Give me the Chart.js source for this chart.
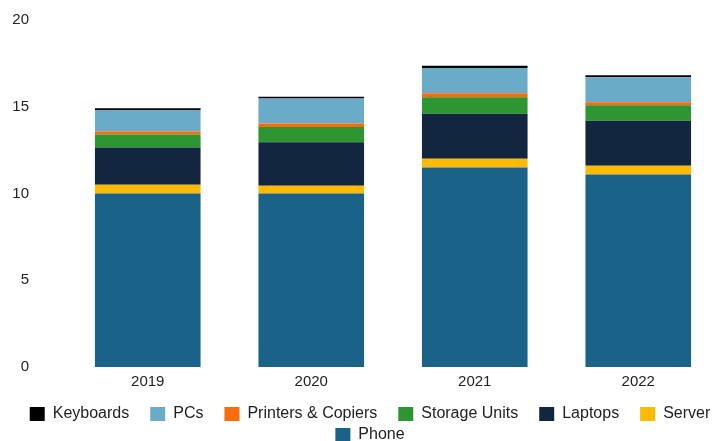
<!DOCTYPE html>
<html>
<head>
    <meta charset="utf-8" />
    <title>Devices by year</title>
    <script src="https://cdn.jsdelivr.net/npm/chart.js@4.4.1/dist/chart.umd.min.js"></script>
    <style>
        body { margin: 0; background: #fff; }
        #wrap { width: 727px; height: 441px; }
    </style>
</head>
<body>
    <div id="wrap">
        <canvas id="stacked-chart" width="727" height="441"></canvas>
    </div>
<script>
    // years on the x axis
    var years = ['2019', '2020', '2021', '2022'];

    // series, listed bottom of the stack first
    var phone = [10.0, 10.0, 11.5, 11.1];
    var server = [0.5, 0.45, 0.5, 0.5];
    var laptops = [2.15, 2.5, 2.6, 2.6];
    var storageUnits = [0.75, 0.88, 0.95, 0.88];
    var printersCopiers = [0.18, 0.2, 0.23, 0.18];
    var pcs = [1.23, 1.44, 1.46, 1.44];
    var keyboards = [0.1, 0.1, 0.12, 0.12];

    var yTicks = [0, 5, 10, 15, 20];

    var seriesNames = ['Phone', 'Server', 'Laptops', 'Storage Units', 'Printers & Copiers', 'PCs', 'Keyboards'];
    var seriesData = [phone, server, laptops, storageUnits, printersCopiers, pcs, keyboards];
    var seriesColors = ['#1B6288', '#FDBA00', '#12263F', '#2D9632', '#FA6B0B', '#6AABC8', '#000000'];

    var datasets = [];
    for (var i = 0; i < seriesNames.length; i++) {
        datasets.push({
            label: seriesNames[i],
            data: seriesData[i],
            backgroundColor: seriesColors[i],
            borderWidth: 0,
            categoryPercentage: 1.0,
            barPercentage: 0.646
        });
    }

    // the original legend sits a bit lower and further right
    var legendNudge = {
        id: 'legendNudge',
        afterLayout: function (chart) {
            chart.legend.left += 18;
            chart.legend.right += 18;
            chart.legend.top += 12;
            chart.legend.bottom += 12;
        }
    };

    var ctx = document.getElementById('stacked-chart');
    new Chart(ctx, {
        type: 'bar',
        data: { labels: years, datasets: datasets },
        plugins: [legendNudge],
        options: {
            responsive: false,
            animation: false,
            layout: { padding: { top: 20, right: 7, bottom: 0, left: 0 } },
            scales: {
                x: {
                    stacked: true,
                    grid: { display: false, drawTicks: false },
                    border: { display: false },
                    ticks: {
                        padding: 6,
                        color: '#222',
                        font: { family: 'Liberation Sans', size: 15 }
                    },
                    afterFit: function (scale) { scale.height = 22; }
                },
                y: {
                    stacked: true,
                    min: 0,
                    max: 20,
                    grid: { display: false, drawTicks: false },
                    border: { display: false },
                    afterBuildTicks: function (scale) {
                        scale.ticks = yTicks.map(function (v) { return { value: v }; });
                    },
                    ticks: {
                        padding: 37,
                        color: '#222',
                        font: { family: 'Liberation Sans', size: 15 }
                    },
                    afterFit: function (scale) {
                        // the big label gap should not push the plot down
                        scale.width = 66;
                        scale.paddingTop = 8;
                        scale.paddingBottom = 8;
                    }
                }
            },
            plugins: {
                tooltip: { enabled: false },
                legend: {
                    position: 'bottom',
                    reverse: true,
                    labels: {
                        boxWidth: 15,
                        boxHeight: 14,
                        padding: 5,
                        color: '#222',
                        font: { family: 'Liberation Sans', size: 16 },
                        generateLabels: function (chart) {
                            var items = Chart.defaults.plugins.legend.labels.generateLabels(chart);
                            items.forEach(function (item) {
                                item.text = item.text + '\u2003';
                                item.lineWidth = 0;
                            });
                            return items;
                        }
                    }
                }
            }
        }
    });
</script>
</body>
</html>
